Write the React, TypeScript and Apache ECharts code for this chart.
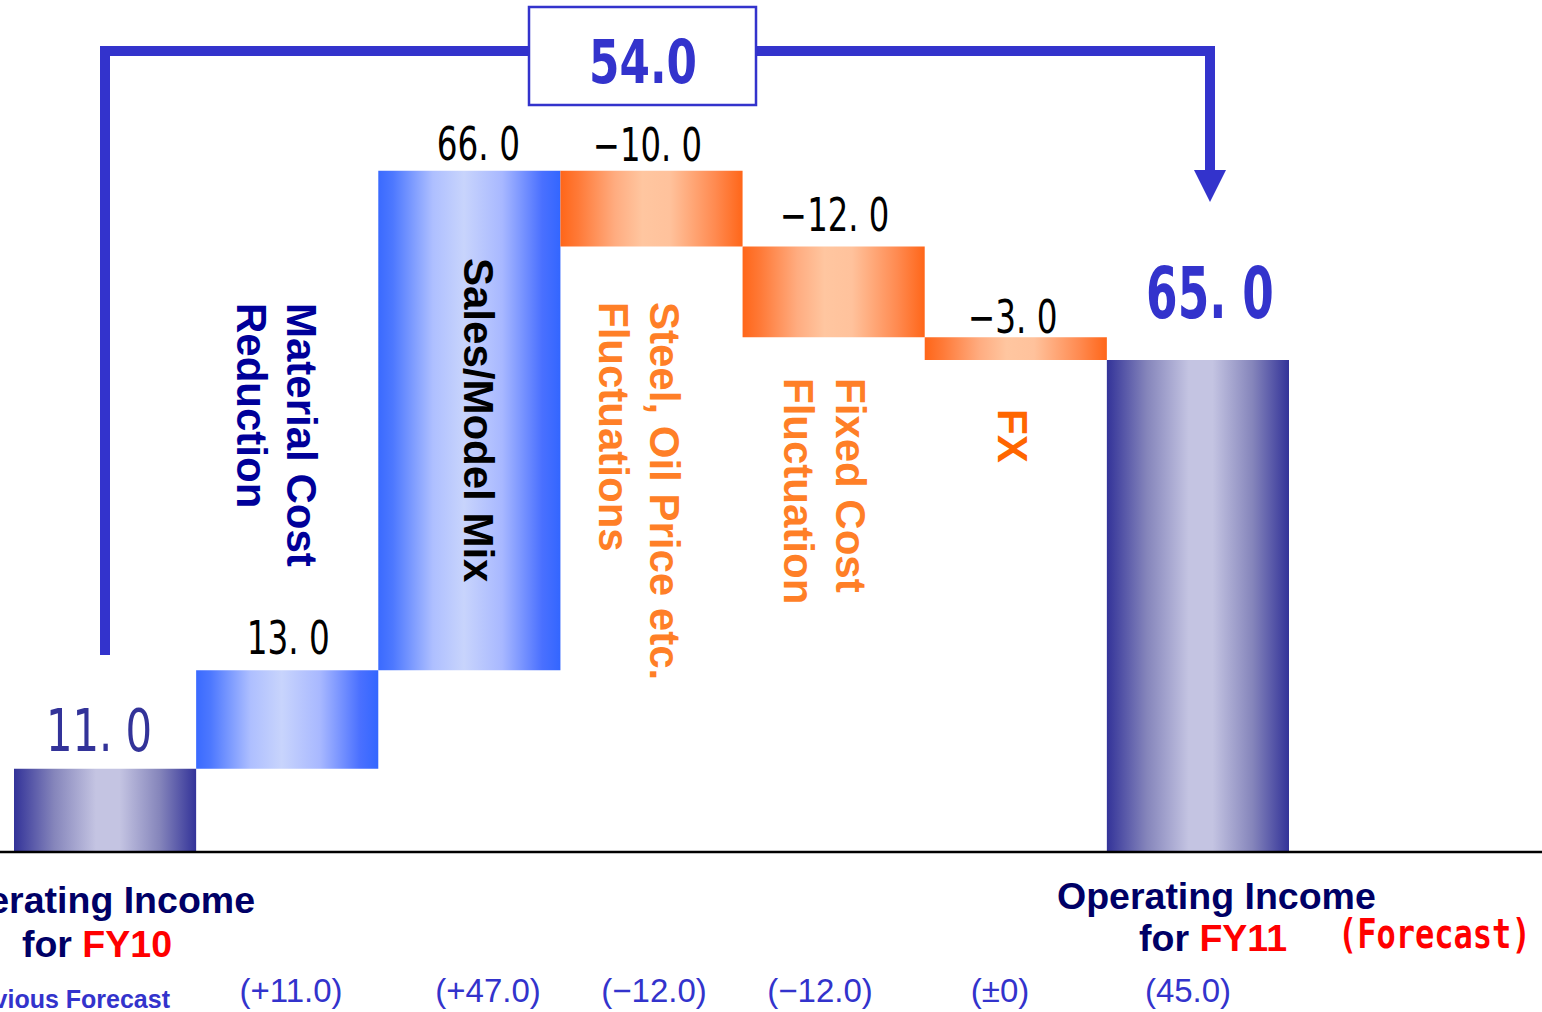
import React, { useEffect, useRef } from 'react';
import * as echarts from 'echarts';

// ---- data ----
const categories = [
  'Operating Income for FY10',
  'Material Cost Reduction',
  'Sales/Model Mix',
  'Steel, Oil Price etc. Fluctuations',
  'Fixed Cost Fluctuation',
  'FX',
  'Operating Income for FY11',
];
const changes = [11.0, 13.0, 66.0, -10.0, -12.0, -3.0, 65.0];
const isTotal = [true, false, false, false, false, false, true];
const previousForecast = ['(+11.0)', '(+47.0)', '(−12.0)', '(−12.0)', '(±0)', '(45.0)'];

// ---- layout constants ----
const COND = '"DejaVu Sans Condensed", "Liberation Sans Narrow", "DejaVu Sans", sans-serif';
const SANS = '"Liberation Sans", Arial, "DejaVu Sans", sans-serif';
const BLUE_LINE = '#3333cc';
const NAVY = '#000066';

const fmt = (v: number) => (v < 0 ? '−' : '') + Math.abs(v).toFixed(1).replace('.', '. ');

const grad = (stops: [number, string][]) =>
  new echarts.graphic.LinearGradient(0, 0, 1, 0, stops.map(([offset, color]) => ({ offset, color })));

const totalFill = () =>
  grad([
    [0, '#333399'],
    [0.22, '#8585bb'],
    [0.45, '#c4c4e2'],
    [0.58, '#c4c4e2'],
    [0.8, '#8585bb'],
    [1, '#333399'],
  ]);
const upFill = () =>
  grad([
    [0, '#3a6aff'],
    [0.08, '#4d78ff'],
    [0.3, '#aebfff'],
    [0.47, '#c8d4fc'],
    [0.68, '#a8b8ff'],
    [0.9, '#4a70ff'],
    [1, '#3366ff'],
  ]);
const downFill = () =>
  grad([
    [0, '#ff6619'],
    [0.1, '#ff7a38'],
    [0.3, '#ffac80'],
    [0.45, '#ffc6a0'],
    [0.6, '#ffc29c'],
    [0.85, '#ff8a50'],
    [1, '#ff6619'],
  ]);

// value label look per bar: [dx, rise above bar top, color, size, weight, scaleX]
const labelStyle: [number, number, string, number, string, number][] = [
  [-6, 38, '#333399', 58, 'normal', 0.8],
  [1, 32, '#000000', 46, 'normal', 0.79],
  [9, 26, '#000000', 46, 'normal', 0.79],
  [-4, 25, '#000000', 46, 'normal', 0.78],
  [1, 31, '#000000', 46, 'normal', 0.78],
  [-3, 20, '#000000', 46, 'normal', 0.79],
  [12, 66, '#3333cc', 71, 'bold', 0.71],
];

export default function App() {
  const ref = useRef<HTMLDivElement>(null);

  useEffect(() => {
    if (!ref.current) return;
    const chart = echarts.init(ref.current, undefined, { renderer: 'svg' });

    const baseVals: number[] = [];
    const barVals: number[] = [];
    let cum = 0;
    changes.forEach((c, i) => {
      if (isTotal[i]) {
        baseVals.push(0);
        barVals.push(c);
        cum = c;
      } else {
        const s = cum;
        const e = cum + c;
        baseVals.push(Math.min(s, e));
        barVals.push(Math.abs(c));
        cum = e;
      }
    });

    const barData = barVals.map((v, i) => ({
      value: v,
      itemStyle: { color: isTotal[i] ? totalFill() : changes[i] >= 0 ? upFill() : downFill() },
    }));

    chart.setOption({
      animation: false,
      backgroundColor: '#ffffff',
      grid: { left: 14, right: 253, top: 95, bottom: 160, containLabel: false },
      xAxis: { type: 'category', data: categories, show: false },
      yAxis: { type: 'value', min: 0, max: 100, show: false, splitLine: { show: false } },
      series: [
        {
          name: 'base',
          type: 'bar',
          stack: 'w',
          barWidth: '100%',
          barCategoryGap: '0%',
          itemStyle: { color: 'transparent' },
          emphasis: { disabled: true },
          silent: true,
          data: baseVals,
        },
        {
          name: 'change',
          type: 'bar',
          stack: 'w',
          barWidth: '100%',
          barCategoryGap: '0%',
          emphasis: { disabled: true },
          data: barData,
        },
      ],
    });

    // value labels placed from the chart's own scales
    const valueLabels = changes.map((c, i) => {
      const [px, py] = chart.convertToPixel({ gridIndex: 0 }, [i, baseVals[i] + barVals[i]]) as number[];
      const [dx, rise, color, size, weight, sx] = labelStyle[i];
      return {
        type: 'text',
        x: px + dx,
        y: py - rise,
        scaleX: sx,
        style: {
          text: fmt(c),
          fill: color,
          font: `${weight} ${size}px ${COND}`,
          align: 'center',
          verticalAlign: 'middle',
        },
        z: 25,
      };
    });

    const bracketValue = changes[changes.length - 1] - changes[0];

    const vText = (text: string, x: number, y: number, color: string, size = 42) => ({
      type: 'text',
      x,
      y,
      rotation: -Math.PI / 2,
      style: {
        text,
        fill: color,
        font: `bold ${size}px ${SANS}`,
        align: 'left',
        verticalAlign: 'middle',
      },
      z: 20,
    });

    const valueRowX = [291, 488, 654, 820, 1000, 1188];
    const big = `bold 37.5px ${SANS}`;

    const graphic: any[] = [
      {
        type: 'line',
        shape: { x1: 0, y1: 852, x2: 1542, y2: 852 },
        style: { stroke: '#000', lineWidth: 2.5 },
        z: 30,
      },
      {
        type: 'polyline',
        shape: { points: [[105, 655], [105, 51], [1210, 51], [1210, 175]] },
        style: { stroke: BLUE_LINE, lineWidth: 10, fill: 'none', lineJoin: 'miter', lineCap: 'butt' },
        z: 20,
      },
      {
        type: 'polygon',
        shape: { points: [[1194, 170], [1226, 170], [1210, 202]] },
        style: { fill: BLUE_LINE },
        z: 20,
      },
      {
        type: 'rect',
        shape: { x: 529, y: 7, width: 227, height: 98 },
        style: { fill: '#ffffff', stroke: BLUE_LINE, lineWidth: 2.5 },
        z: 21,
      },
      {
        type: 'text',
        x: 643,
        y: 62,
        scaleX: 0.81,
        style: {
          text: bracketValue.toFixed(1),
          fill: BLUE_LINE,
          font: `bold 60px ${COND}`,
          align: 'center',
          verticalAlign: 'middle',
        },
        z: 22,
      },
      ...valueLabels,
      vText('Material Cost', 301, 303, '#000099'),
      vText('Reduction', 251, 303, '#000099'),
      vText('Sales/Model Mix', 478, 258, '#000000'),
      vText('Steel, Oil Price etc.', 664, 302, '#ff7f27'),
      vText('Fluctuations', 613, 302, '#ff7f27'),
      vText('Fixed Cost', 850, 378, '#ff7f27'),
      vText('Fluctuation', 798, 378, '#ff7f27'),
      vText('FX', 1012, 409, '#ff6600'),
      {
        type: 'text',
        x: 255,
        y: 900,
        style: { text: 'Operating Income', fill: NAVY, font: big, align: 'right', verticalAlign: 'middle' },
      },
      {
        type: 'text',
        x: 172,
        y: 944,
        style: {
          text: '{a|for }{b|FY10}',
          align: 'right',
          verticalAlign: 'middle',
          rich: { a: { fill: NAVY, font: big }, b: { fill: '#ff0000', font: big } },
        },
      },
      {
        type: 'text',
        x: 170,
        y: 999,
        style: { text: 'Previous Forecast', fill: BLUE_LINE, font: `bold 25px ${SANS}`, align: 'right', verticalAlign: 'middle' },
      },
      {
        type: 'text',
        x: 1057,
        y: 896,
        style: { text: 'Operating Income', fill: NAVY, font: big, align: 'left', verticalAlign: 'middle' },
      },
      {
        type: 'text',
        x: 1287,
        y: 938,
        style: {
          text: '{a|for }{b|FY11}',
          align: 'right',
          verticalAlign: 'middle',
          rich: { a: { fill: NAVY, font: big }, b: { fill: '#ff0000', font: big } },
        },
      },
      {
        type: 'text',
        x: 1338,
        y: 934,
        scaleY: 1.25,
        style: {
          text: '(Forecast)',
          fill: '#ff0000',
          font: `bold 32px "DejaVu Sans Mono", "Liberation Mono", monospace`,
          align: 'left',
          verticalAlign: 'middle',
        },
      },
      ...previousForecast.map((t, i) => ({
        type: 'text',
        x: valueRowX[i],
        y: 990,
        style: { text: t, fill: BLUE_LINE, font: `33px ${SANS}`, align: 'center', verticalAlign: 'middle' },
      })),
    ];

    chart.setOption({ graphic });

    return () => chart.dispose();
  }, []);

  return (
    <div
      ref={ref}
      style={{ position: 'fixed', left: 0, top: 0, width: 1542, height: 1012, background: '#fff' }}
    />
  );
}
